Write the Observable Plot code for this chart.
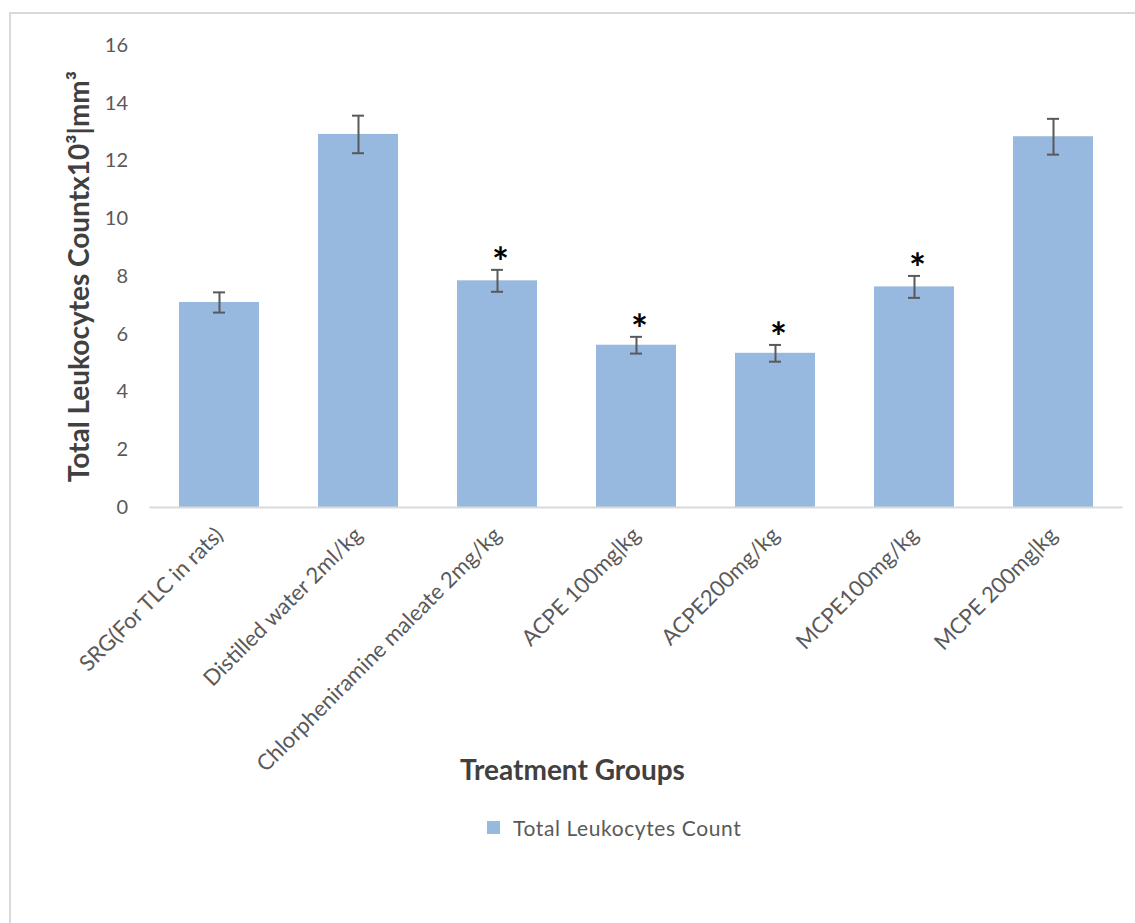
<!DOCTYPE html>
<html>
<head>
<meta charset="utf-8">
<script src="https://cdn.jsdelivr.net/npm/d3@7"></script>
<script src="https://cdn.jsdelivr.net/npm/@observablehq/plot@0.6"></script>
<style>
  html, body { margin: 0; padding: 0; background: #fff; }
  #wrap { position: relative; width: 1135px; height: 923px; overflow: hidden; font-family: Lato, "Open Sans", sans-serif; }
  #frame { position: absolute; left: 9px; top: 12px; width: 1200px; height: 1000px; border: 2px solid #d9d9d9; box-sizing: border-box; }
  #xtitle { position: absolute; left: 0; width: 1145px; top: 752px; text-align: center; font-weight: 700; font-size: 28px; color: #404040; }
  #legend { position: absolute; left: 487px; top: 815px; display: flex; align-items: center; font-size: 21px; letter-spacing: 0.6px; color: #595959; }
  #legend .sw { width: 13px; height: 13px; background: #97b8df; margin-right: 13px; }
  #chart { position: absolute; left: 0; top: 0; }
</style>
</head>
<body>
<div id="wrap">
  <div id="frame"></div>
  <div id="chart"></div>
  <div id="xtitle">Treatment Groups</div>
  <div id="legend"><div class="sw"></div><span>Total Leukocytes Count</span></div>
</div>
<script>
const groups = [
  "SRG(For TLC in rats)",
  "Distilled water 2ml/kg",
  "Chlorpheniramine maleate 2mg/kg",
  "ACPE 100mg|kg",
  "ACPE200mg/kg",
  "MCPE100mg/kg",
  "MCPE 200mg|kg"
];
const means = [7.10, 12.92, 7.85, 5.62, 5.34, 7.64, 12.84];
const sems = [0.35, 0.65, 0.38, 0.29, 0.29, 0.38, 0.62];
const marks = ["", "", "*", "*", "*", "*", ""];
const yTicks = [0, 2, 4, 6, 8, 10, 12, 14, 16];
const yTitle = "Total Leukocytes Countx10³|mm³";

const data = groups.map((g, i) => ({group: g, mean: means[i], sem: sems[i], mark: marks[i]}));

const barColor = "#97b8df";
const errColor = "#595959";

const chart = Plot.plot({
  width: 1135,
  height: 923,
  marginLeft: 149.5,
  marginRight: 12.5,
  marginTop: 45,
  marginBottom: 416,
  style: {fontFamily: "Lato, 'Open Sans', sans-serif", background: "transparent"},
  x: {domain: groups, paddingInner: 0.424, paddingOuter: 0.212, label: null},
  y: {domain: [0, 16], label: null},
  marks: [
    Plot.barY(data, {x: "group", y: "mean", fill: barColor}),
    Plot.ruleY([0], {stroke: "#d9d9d9", strokeWidth: 2}),
    Plot.ruleX(data, {x: "group", y1: d => d.mean - d.sem, y2: d => d.mean + d.sem, stroke: errColor, strokeWidth: 2}),
    Plot.tickY(data, {x: "group", y: d => d.mean + d.sem, stroke: errColor, strokeWidth: 2, insetLeft: 34, insetRight: 34}),
    Plot.tickY(data, {x: "group", y: d => d.mean - d.sem, stroke: errColor, strokeWidth: 2, insetLeft: 34, insetRight: 34}),
    Plot.text(data.filter(d => d.mark), {x: "group", y: d => d.mean + d.sem, text: "mark", dx: 3, dy: -6, lineAnchor: "middle", fontSize: 40, fontWeight: 700, fill: "#000"}),
    Plot.axisY({ticks: yTicks, tickSize: 0, tickPadding: 22, fontSize: 20, color: "#595959", label: null}),
    Plot.axisX({tickSize: 0, tickPadding: 24, tickRotate: -45, fontSize: 22, color: "#595959", label: null, style: {letterSpacing: "0.6px"}}),
    Plot.text([yTitle], {frameAnchor: "left", dx: -70, rotate: -90, fontSize: 28, fontWeight: 700, fill: "#404040", textAnchor: "middle"})
  ]
});
document.getElementById("chart").appendChild(chart);
</script>
</body>
</html>
